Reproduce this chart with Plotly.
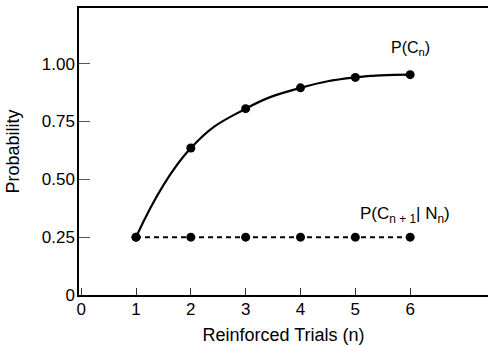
import plotly.graph_objects as go

# Reinforced trials and probabilities
trials = [1, 2, 3, 4, 5, 6]
p_correct = [0.25, 0.635, 0.805, 0.895, 0.94, 0.952]
p_cond = [0.25, 0.25, 0.25, 0.25, 0.25, 0.25]

x_ticks = [0, 1, 2, 3, 4, 5, 6]
y_ticks = [0, 0.25, 0.5, 0.75, 1.0]
y_tick_text = ["0", "0.25", "0.50", "0.75", "1.00"]

FONT = "Liberation Sans, Arial, Helvetica, sans-serif"

fig = go.Figure()

fig.add_trace(go.Scatter(
    x=trials, y=p_correct, mode="lines+markers",
    line=dict(color="black", width=2.2, shape="spline", smoothing=1.3),
    marker=dict(color="black", size=9),
    showlegend=False, cliponaxis=False,
))

fig.add_trace(go.Scatter(
    x=trials, y=p_cond, mode="lines+markers",
    line=dict(color="black", width=2, dash="5px,4px"),
    marker=dict(color="black", size=9),
    showlegend=False, cliponaxis=False,
))

fig.add_annotation(
    x=trials[-1], y=1.065, xref="x", yref="y",
    text="P(C<sub>n</sub>)", showarrow=False,
    font=dict(size=16, color="black", family=FONT),
)
fig.add_annotation(
    x=5.9, y=0.345, xref="x", yref="y",
    text="P(C<sub>n + 1</sub>| N<sub>n</sub>)", showarrow=False,
    font=dict(size=17, color="black", family=FONT),
)

fig.update_layout(
    width=488, height=345,
    margin=dict(l=79, r=0, t=8, b=50),
    paper_bgcolor="white", plot_bgcolor="white",
    font=dict(family=FONT, size=17, color="black"),
)

fig.update_xaxes(
    range=[-0.04, 7.42],
    tickvals=x_ticks, ticktext=[str(v) for v in x_ticks],
    ticks="inside", ticklen=7, tickwidth=1, tickcolor="#333",
    ticklabelstandoff=-2,
    showline=True, linecolor="black", linewidth=1.5, mirror=True,
    showgrid=False, zeroline=False,
    tickfont=dict(size=17),
    title=dict(text="Reinforced Trials (n)", font=dict(size=18), standoff=12),
)
fig.update_yaxes(
    range=[0, 1.24],
    tickvals=y_ticks, ticktext=y_tick_text,
    ticks="inside", ticklen=11, tickwidth=1, tickcolor="#555",
    ticklabelstandoff=-1,
    showline=True, linecolor="black", linewidth=1.5,
    showgrid=False, zeroline=False,
    tickfont=dict(size=17),
    title=dict(text="Probability", font=dict(size=18), standoff=17),
)

fig.write_html("out.html")
